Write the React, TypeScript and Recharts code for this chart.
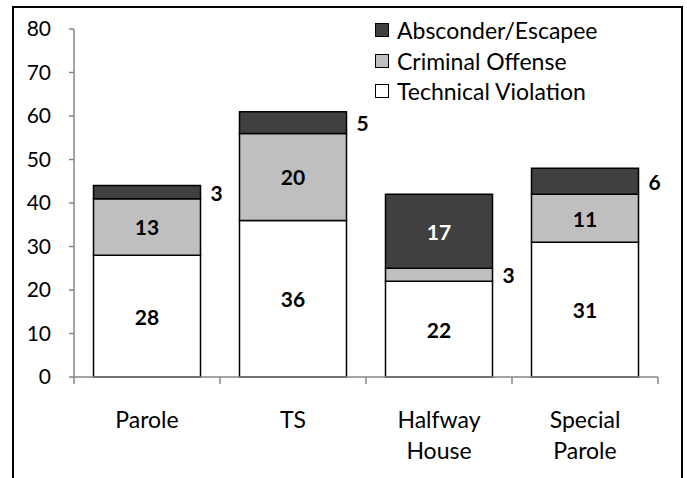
import React from 'react';
import { BarChart, Bar, XAxis, YAxis, Legend, LabelList } from 'recharts';

const categories = ['Parole', 'TS', 'Halfway House', 'Special Parole'];
const technicalViolation = [28, 36, 22, 31];
const criminalOffense = [13, 20, 3, 11];
const absconderEscapee = [3, 5, 17, 6];
const yTicks = [0, 10, 20, 30, 40, 50, 60, 70, 80];
const legendOrder = ['Absconder/Escapee', 'Criminal Offense', 'Technical Violation'];

const data = categories.map((name, i) => ({
  name,
  technical: technicalViolation[i],
  criminal: criminalOffense[i],
  absconder: absconderEscapee[i],
}));

const FONT = 'Lato, "Open Sans", sans-serif';
const AXIS_GRAY = '#868686';

const CategoryTick = (props: any) => {
  const { x, y, payload, index, visibleTicksCount } = props;
  const half = payload && payload.offset ? payload.offset : 73;
  const lines = String(payload.value).split(' ');
  const last = index === visibleTicksCount - 1;
  return (
    <g>
      <line x1={x - half} y1={y} x2={x - half} y2={y + 7} stroke={AXIS_GRAY} strokeWidth={1.5} />
      {last && <line x1={x + half} y1={y} x2={x + half} y2={y + 7} stroke={AXIS_GRAY} strokeWidth={1.5} />}
      <text x={x} y={y + 51} textAnchor="middle" fontFamily={FONT} fontSize={23} fill="#000">
        {lines.map((l, i) => (
          <tspan key={i} x={x} dy={i === 0 ? 0 : 31}>{l}</tspan>
        ))}
      </text>
    </g>
  );
};

const makeLabel = (color: string) => (props: any) => {
  const { x, y, width, height, value } = props;
  const small = value <= 6;
  const cx = small ? x + width + 10 : x + width / 2;
  return (
    <text
      x={cx}
      y={y + height / 2}
      textAnchor={small ? 'start' : 'middle'}
      dominantBaseline="central"
      fontFamily={FONT}
      fontSize={21}
      fontWeight="bold"
      fill={small ? '#000' : color}
    >
      {value}
    </text>
  );
};

const LegendBox = (props: any) => {
  const items = [...(props.payload || [])].sort(
    (a: any, b: any) => legendOrder.indexOf(a.value) - legendOrder.indexOf(b.value)
  );
  return (
    <div style={{ fontFamily: FONT, fontSize: 23, color: '#000' }}>
      {items.map((it: any) => (
        <div key={it.value} style={{ display: 'flex', alignItems: 'center', height: 30.5 }}>
          <span
            style={{
              display: 'inline-block',
              width: 12,
              height: 12,
              background: it.color,
              border: '1.5px solid #000',
              marginRight: 8,
            }}
          />
          <span>{it.value}</span>
        </div>
      ))}
    </div>
  );
};

export default function App() {
  return (
    <div style={{ position: 'absolute', left: 0, top: 0, width: 687, height: 478, overflow: 'hidden', background: '#fff' }}>
      <div
        style={{
          position: 'absolute',
          left: 12,
          top: 6,
          width: 667,
          height: 490,
          border: '2px solid #000',
        }}
      />
      <div style={{ position: 'absolute', left: 0, top: 0 }}>
        <BarChart
          width={687}
          height={478}
          data={data}
          margin={{ top: 29, right: 29, left: 14, bottom: 41 }}
          barCategoryGap={19.5}
        >
          <XAxis
            dataKey="name"
            stroke={AXIS_GRAY}
            strokeWidth={1.5}
            tickLine={false}
            tickSize={0}
            tickMargin={0}
            height={60}
            interval={0}
            tick={<CategoryTick />}
          />
          <YAxis
            domain={[0, 80]}
            ticks={yTicks}
            width={60}
            stroke={AXIS_GRAY}
            strokeWidth={1.5}
            tickSize={5}
            tickMargin={18}
            tick={{ fill: '#000', fontFamily: FONT, fontSize: 21 }}
            interval={0}
          />
          <Legend
            verticalAlign="middle"
            align="center"
            layout="horizontal"
            content={<LegendBox />}
            wrapperStyle={{ position: 'absolute', left: 375, top: 15, width: 300 }}
          />
          <Bar dataKey="technical" name="Technical Violation" stackId="a" fill="#ffffff" stroke="#000" strokeWidth={1.5} isAnimationActive={false}>
            <LabelList dataKey="technical" content={makeLabel('#000')} />
          </Bar>
          <Bar dataKey="criminal" name="Criminal Offense" stackId="a" fill="#bfbfbf" stroke="#000" strokeWidth={1.5} isAnimationActive={false}>
            <LabelList dataKey="criminal" content={makeLabel('#000')} />
          </Bar>
          <Bar dataKey="absconder" name="Absconder/Escapee" stackId="a" fill="#404040" stroke="#000" strokeWidth={1.5} isAnimationActive={false}>
            <LabelList dataKey="absconder" content={makeLabel('#fff')} />
          </Bar>
        </BarChart>
      </div>
    </div>
  );
}
